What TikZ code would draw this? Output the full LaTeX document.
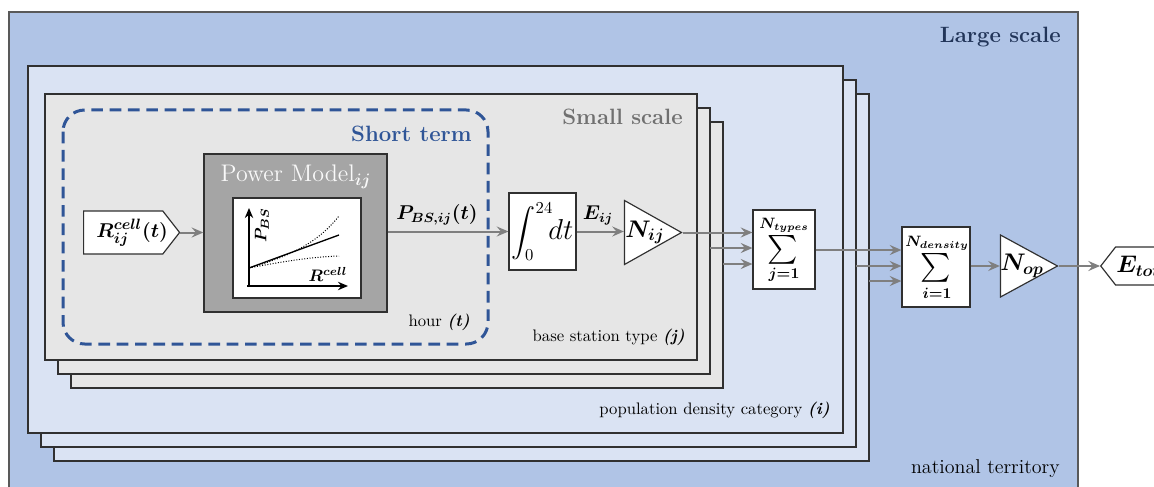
\documentclass[tikz,border=0pt]{standalone}
\usepackage{amsmath,bm}
\usetikzlibrary{shapes.symbols,shapes.geometric,arrows.meta,calc}
\definecolor{outerblue}{HTML}{B0C4E6}
\definecolor{lightblue}{HTML}{DAE3F3}
\definecolor{lightgray}{HTML}{E6E6E6}
\definecolor{pmgray}{HTML}{A5A5A5}
\definecolor{dashblue}{HTML}{2F5597}
\definecolor{navy}{HTML}{223559}
\definecolor{smallgray}{HTML}{707070}
\definecolor{arrowgray}{HTML}{7F7F7F}
\definecolor{edge}{HTML}{303030}
\tikzset{
  layer/.style={draw=edge, line width=0.8pt},
  arr/.style={draw=arrowgray, line width=1.2pt, -{Stealth[length=7pt,width=6pt,inset=2.5pt]}},
  whitebox/.style={draw=edge, line width=0.7pt, fill=white, inner sep=0pt},
  tri/.style={isosceles triangle, isosceles triangle stretches, draw=edge, line width=0.7pt, fill=white, inner sep=0pt},
  sig/.style={signal, draw=edge, line width=0.7pt, fill=white, inner sep=0pt},
  scalelabel/.style={font=\fontsize{13.3}{16}\selectfont\bfseries, anchor=east, inner sep=0pt},
  plainlabel/.style={font=\normalsize, anchor=east, text=black, inner sep=0pt},
  mathlabel/.style={font=\Large, text=black, inner sep=0pt},
  limlabel/.style={font=\small, text=black, inner sep=0pt},
  sigmalabel/.style={font=\fontsize{19}{19}\selectfont, text=black, inner sep=0pt},
}
\begin{document}
\begin{tikzpicture}[x=0.6pt,y=-0.6pt]
\useasboundingbox (0,0) rectangle (1154,487);
\clip (0,0) rectangle (1154,487);
\fill[white] (0,0) rectangle (1154,487);
% large scale
\draw[layer, draw=edge!80, fill=outerblue] (9,12) rectangle (1078,495);
\node[scalelabel, text=navy] (large) at (1061,37) {Large scale};
\node[plainlabel, font=\large] (national) at (1060,469) {national territory};
% population density layers
\draw[layer, fill=lightblue] (54,94) rectangle (869,461);
\draw[layer, fill=lightblue] (41,80) rectangle (856,447);
\draw[layer, fill=lightblue] (28,66) rectangle (843,433);
\node[plainlabel] (popden) at (830,410) {population density category \textbf{\textit{(i)}}};
% base station layers
\draw[layer, fill=lightgray] (71,122) rectangle (723,388);
\draw[layer, fill=lightgray] (58,108) rectangle (710,374);
\draw[layer, fill=lightgray] (45,94) rectangle (697,360);
\node[scalelabel, text=smallgray] (small) at (683,117) {Small scale};
\node[plainlabel] (bstype) at (685,337) {base station type \textbf{\textit{(j)}}};
% short term
\draw[dashblue, line width=1.8pt, dash pattern=on 7pt off 4pt, rounded corners=13pt] (63,110) rectangle (488,344);
\node[scalelabel, text=dashblue] (short) at (472,134) {Short term};
\node[plainlabel] (hour) at (470,322) {hour \textbf{\textit{(t)}}};
% power model
\node[draw=edge, line width=0.8pt, fill=pmgray, minimum width=183*0.6pt, minimum height=158*0.6pt, inner sep=0pt] (pm) at (295.5,233) {};
\node[text=white!95!gray, font=\Large] (pmtitle) at (296,177) {Power Model$_{\bm{ij}}$};
\node[whitebox, minimum width=128*0.6pt, minimum height=100*0.6pt] (chart) at (297,248) {};
\draw[black, line width=1pt, -{Stealth[length=6pt,width=5pt]}] (249,287) -- (249,208);
\draw[black, line width=1pt, -{Stealth[length=6pt,width=5pt]}] (247,286) -- (348,286);
\draw[black, line width=0.8pt] (249,268) -- (339,235);
\draw[black, line width=0.6pt, densely dotted] (249,268) .. controls (295,255) and (320,240) .. (339,216);
\draw[black, line width=0.6pt, densely dotted] (249,268) .. controls (280,262) and (310,257) .. (339,256);
\node[rotate=90, font=\normalsize] (pbs) at (262,225) {$\bm{P_{BS}}$};
\node[font=\normalsize] (rcell) at (328,274) {$\bm{R^{cell}}$};
% input
\node[sig, signal to=east, signal pointer angle=104, minimum width=96*0.6pt, minimum height=43*0.6pt, anchor=west] (R) at (83,232.5) {};
\node[mathlabel, font=\fontsize{13}{15}\selectfont, anchor=west] (Rlab) at (96,233) {$\bm{R_{ij}^{cell}(t)}$};
% integral
\node[whitebox, minimum width=67*0.6pt, minimum height=77*0.6pt] (int) at (542.5,231.5) {{\Large$\displaystyle\int_0^{24}$}{\LARGE$\!dt$}};
% triangle N_ij
\node[tri, minimum height=57*0.6pt, minimum width=64*0.6pt, anchor=apex] (nij) at (683,232.5) {};
\node[mathlabel] (nijlab) at (645,232.5) {$\bm{N_{ij}}$};
% sum over types
\node[whitebox, minimum width=62*0.6pt, minimum height=79*0.6pt] (sum1) at (784,249.5) {};
\node[limlabel] (sum1top) at (784,225) {$\bm{N_{types}}$};
\node[sigmalabel] (sum1sig) at (783,250) {$\sum$};
\node[limlabel] (sum1bot) at (784,275) {$\bm{j{=}1}$};
% sum over density
\node[whitebox, minimum width=68*0.6pt, minimum height=80*0.6pt] (sum2) at (936,267) {};
\node[limlabel] (sum2top) at (937,243) {$\bm{N_{density}}$};
\node[sigmalabel] (sum2sig) at (936,268) {$\sum$};
\node[limlabel] (sum2bot) at (937,293) {$\bm{i{=}1}$};
% operators, output
\node[tri, minimum height=57*0.6pt, minimum width=62*0.6pt, anchor=apex] (nop) at (1059,266) {};
\node[mathlabel] (noplab) at (1022,266) {$\bm{N_{op}}$};
\node[sig, signal to=west, signal pointer angle=104, minimum width=80*0.6pt, minimum height=38*0.6pt, anchor=west] (etot) at (1100,266) {};
\node[mathlabel, anchor=west] (etotlab) at (1116,266) {$\bm{E_{tot}}$};
% extra sources
\coordinate (s1b) at (710,248);
\coordinate (s1c) at (723,264);
\coordinate (s2b) at (856,266);
\coordinate (s2c) at (869,281);
% connectors
\draw[arr] (R.east) -- (R.east -| pm.west);
\draw[arr] (pm.east |- int.west) -- (int.west);
\node[mathlabel, font=\large] (pbsij) at (437,215) {$\bm{P_{BS,ij}(t)}$};
\draw[arr] (int.east) -- (int.east -| nij.lower side);
\node[mathlabel, font=\large] (eij) at (598,215) {$\bm{E_{ij}}$};
\draw[arr] (nij.apex) -- (nij.apex -| sum1.west);
\draw[arr] (s1b) -- (s1b -| sum1.west);
\draw[arr] (s1c) -- (s1c -| sum1.west);
\draw[arr] (sum1.east |- 0,250) -- (sum2.west |- 0,250);
\draw[arr] (s2b) -- (s2b -| sum2.west);
\draw[arr] (s2c) -- (s2c -| sum2.west);
\draw[arr] (sum2.east |- nop.apex) -- (nop.apex -| nop.lower side);
\draw[arr] (nop.apex) -- (nop.apex -| etot.west);
\end{tikzpicture}
\end{document}
